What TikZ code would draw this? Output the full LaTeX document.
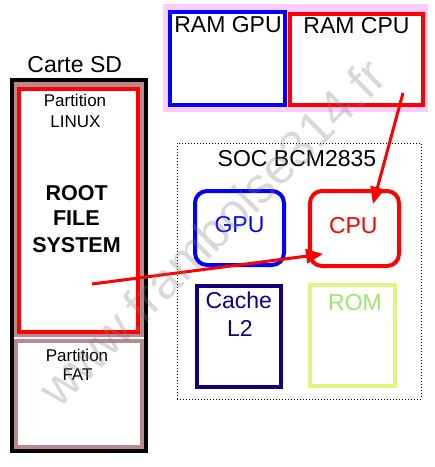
\documentclass[tikz,border=0pt]{standalone}
\usepackage{fontspec}
\setmainfont{Liberation Sans}
\usetikzlibrary{arrows.meta}
\definecolor{mauve}{RGB}{184,138,142}
\definecolor{pinkbg}{RGB}{255,204,255}
\definecolor{navy}{RGB}{20,0,130}
\definecolor{romyel}{RGB}{232,242,128}
\definecolor{romtxt}{RGB}{160,228,110}
\tikzset{
  box/.style={draw, line width=4pt, inner sep=0pt, outer sep=0pt, fill=white},
  plain/.style={inner sep=0pt, outer sep=0pt},
  txt/.style={inner sep=0pt, anchor=base, font=\fontsize{23}{27}\selectfont},
  small/.style={inner sep=0pt, anchor=base, font=\fontsize{17}{20}\selectfont},
  bigb/.style={inner sep=0pt, anchor=base, font=\fontsize{21.5}{25}\selectfont\bfseries},
  redarrow/.style={draw=red, line width=3pt, -{Triangle[length=17pt,width=14pt]}},
}
\begin{document}
\begin{tikzpicture}[x=1pt,y=-1pt]
\useasboundingbox (0,0) rectangle (435,467);
% Carte SD
\node[box, draw=black, minimum width=134pt, minimum height=371pt] (sd) at (79,265.5) {};
\node[plain, fill=mauve, minimum width=130pt, minimum height=255pt] (linuxbg) at (79,209.5) {};
\node[box, draw=red, minimum width=118.7pt, minimum height=243.3pt] (linux) at (78.35,210.35) {};
\node[box, draw=mauve, minimum width=126pt, minimum height=106pt] (fat) at (79,394) {};
\node[txt] (sdlabel) at (74.7,72) {Carte SD};
\node[small] (p1) at (75,106.5) {Partition};
\node[small] (p2) at (75.5,127) {LINUX};
\node[bigb] (r1) at (76.7,200) {ROOT};
\node[bigb] (r2) at (76.4,225) {FILE};
\node[bigb] (r3) at (76.5,252.7) {SYSTEM};
\node[small] (f1) at (77,361) {Partition};
\node[small] (f2) at (77.5,380.7) {FAT};
% RAM
\node[plain, fill=pinkbg, minimum width=265pt, minimum height=108pt] (ram) at (295.5,58) {};
\node[box, draw=blue, minimum width=115.5pt, minimum height=93pt] (ramgpu) at (227.25,58.5) {};
\node[box, draw=red, minimum width=133pt, minimum height=91.5pt] (ramcpu) at (356.5,59.25) {};
\node[txt] (ramgpul) at (228,32) {RAM GPU};
\node[txt] (ramcpul) at (356.5,33) {RAM CPU};
% SOC
\node[plain, draw=black, line width=1pt, dotted, minimum width=244pt, minimum height=256pt] (soc) at (299,271) {};
\node[txt] (socl) at (297,166) {SOC BCM2835};
\node[box, draw=blue, rounded corners=12pt, minimum width=89pt, minimum height=74pt] (gpu) at (239.5,228) {};
\node[box, draw=red, rounded corners=12pt, minimum width=89pt, minimum height=75pt] (cpu) at (354.5,228.5) {};
\node[box, draw=navy, minimum width=84pt, minimum height=101pt] (cache) at (239,336.5) {};
\node[box, draw=romyel, minimum width=85pt, minimum height=101pt] (rom) at (352.5,335.5) {};
\node[txt, text=blue] (gpul) at (239.5,232.7) {GPU};
\node[txt, text=red] (cpul) at (353.3,233) {CPU};
\node[txt, text=navy] (cachel) at (238.8,308) {Cache};
\node[txt, text=navy] (l2l) at (240,336) {L2};
\node[txt, text=romtxt] (roml) at (355,310.7) {ROM};
% arrows
\coordinate (a1s) at (403,93);
\coordinate (a1e) at (373,204);
\coordinate (a2s) at (92,284);
\coordinate (a2e) at (323,254);
\draw[redarrow] (a1s) -- (a1e);
\draw[redarrow] (a2s) -- (a2e);
% watermark
\node[inner sep=0pt, rotate=45, text=gray, opacity=0.3, font=\fontsize{50}{55}\selectfont] (wm) at (212,232) {www.framboise314.fr};
\end{tikzpicture}
\end{document}
